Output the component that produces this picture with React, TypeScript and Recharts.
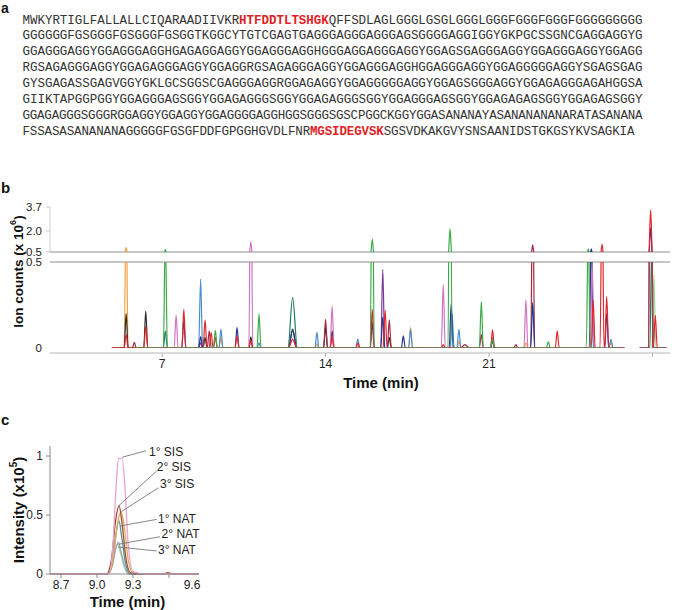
import React from 'react';
import { LineChart, Line, XAxis, YAxis, ReferenceLine, ReferenceDot } from 'recharts';

const FONT = '"Liberation Sans", Arial, Helvetica, sans-serif';
const MONO = '"Liberation Mono", "DejaVu Sans Mono", monospace';

// ---------- Panel a: protein sequence ("|" toggles the red, bold peptides) ----------
const sequenceLines = [
  'MWKYRTIGLFALLALLCIQARAADIIVKR|HTFDDTLTSHGK|QFFSDLAGLGGGLGSGLGGGLGGGFGGGFGGGFGGGGGGGGG',
  'GGGGGGFGSGGGFGSGGGFGSGGTKGGCYTGTCGAGTGAGGGAGGGAGGGAGSGGGGAGGIGGYGKPGCSSGNCGAGGAGGYG',
  'GGAGGGAGGYGGAGGGAGGHGAGAGGAGGYGGAGGGAGGHGGGAGGAGGGAGGYGGAGSGAGGGAGGYGGAGGGAGGYGGAGG',
  'RGSAGAGGGAGGYGGAGAGGGAGGYGGAGGRGSAGAGGGAGGYGGAGGGAGGHGGAGGGAGGYGGAGGGGGAGGYSGAGSGAG',
  'GYSGAGASSGAGVGGYGKLGCSGGSCGAGGGAGGRGGAGAGGYGGAGGGGGAGGYGGAGSGGGAGGYGGAGAGGGAGAHGGSA',
  'GIIKTAPGGPGGYGGAGGGAGSGGYGGAGAGGGSGGYGGAGAGGGSGGYGGAGGGAGSGGYGGAGAGAGSGGYGGAGAGSGGY',
  'GGAGAGGGSGGGRGGAGGYGGAGGYGGAGGGGAGGHGGSGGGSGSCPGGCKGGYGGASANANAYASANANANANARATASANANA',
  'FSSASASANANANAGGGGGFGSGFDDFGPGGHGVDLFNR|MGSIDEGVSK|SGSVDKAKGVYSNSAANIDSTGKGSYKVSAGKIA',
];
const sequenceLineWidths = [620, 620, 620, 620, 620, 620, 620, 612];

// ---------- Panel b: scheduled MRM chromatogram ----------
const bTimeDomain: [number, number] = [2.2, 28.75];
const bTimeTicks = [7, 14, 21, 28];
const bTimeTickLabels = ['7', '14', '21', ''];
const bUpperDomain: [number, number] = [0.5, 3.7];
const bUpperTicks = [0.5, 2.0, 3.7];
const bLowerDomain: [number, number] = [0, 0.5];
const bLowerTicks = [0, 0.5];
const bWindows = [
  [4.85, 26.8],
  [27.45, 28.6],
];

// peaks: [retention time (min), height (x10^6), half width (min, optional)]
const orangePeaks = [[5.46, 0.81], [9.52, 0.06], [13.63, 0.025], [15.38, 0.02], [17.64, 0.12], [19.71, 0.04], [22.58, 0.03], [26.22, 0.04]];
const blackPeaks = [[5.46, 0.2], [6.3, 0.215], [8.84, 0.06], [10.8, 0.065], [12.59, 0.11, 0.18], [14.0, 0.12], [14.28, 0.1], [16.73, 0.06]];
const redPeaks = [[5.46, 0.08], [6.3, 0.125], [7.93, 0.225], [8.84, 0.163], [9.1, 0.09], [9.28, 0.06], [10.21, 0.07], [10.8, 0.045], [12.59, 0.05, 0.18], [14.28, 0.06], [15.38, 0.03], [16.0, 0.225], [16.55, 0.22], [19.04, 0.02], [21.15, 0.105], [23.92, 0.099], [25.46, 0.28], [25.84, 1.05], [26.04, 0.3], [27.92, 3.49], [28.12, 0.19]];
const darkRedPeaks = [[5.81, 0.033], [9.02, 0.1], [14.0, 0.167], [16.73, 0.163], [19.97, 0.02, 0.2], [20.67, 0.08], [22.15, 0.02], [22.87, 1.0]];
const greenPeaks = [[7.14, 0.69], [9.28, 0.103], [11.15, 0.198], [16.0, 1.42], [19.33, 2.14], [20.67, 0.27], [21.15, 0.05], [23.54, 0.037], [25.25, 0.72]];
const darkGreenPeaks = [[7.14, 0.1], [12.59, 0.295, 0.2], [27.97, 0.6]];
const lightBluePeaks = [[8.65, 0.401], [9.52, 0.11], [11.15, 0.03], [13.63, 0.091], [15.38, 0.052], [17.64, 0.11], [19.42, 0.2], [19.71, 0.109], [21.15, 0.06], [26.22, 0.05]];
const navyPeaks = [[7.93, 0.16], [8.65, 0.066], [10.21, 0.12], [12.59, 0.1, 0.18], [16.0, 0.15], [16.45, 0.18], [17.33, 0.07], [19.38, 0.256], [21.15, 0.04], [22.87, 0.264], [25.38, 0.72], [26.04, 0.2], [27.92, 2.2]];
const purplePeaks = [[8.65, 0.03], [16.45, 0.457]];
const pinkPeaks = [[7.6, 0.19], [10.8, 1.23], [14.28, 0.244], [19.04, 0.372], [22.58, 0.28], [25.42, 0.48]];
const lightGreenPeaks = [[28.06, 0.424]];

const bSeriesDefs = [
  { key: 'lightgreen', color: '#a6d89d', peaks: lightGreenPeaks },
  { key: 'orange', color: '#f5a23c', peaks: orangePeaks },
  { key: 'lightblue', color: '#4b8dd0', peaks: lightBluePeaks },
  { key: 'purple', color: '#7b3a99', peaks: purplePeaks },
  { key: 'black', color: '#2b2b2b', peaks: blackPeaks },
  { key: 'darkred', color: '#9f2a45', peaks: darkRedPeaks },
  { key: 'navy', color: '#28358c', peaks: navyPeaks },
  { key: 'darkgreen', color: '#1f7c5c', peaks: darkGreenPeaks },
  { key: 'pink', color: '#cf73c3', peaks: pinkPeaks },
  { key: 'red', color: '#e3262b', peaks: redPeaks },
  { key: 'green', color: '#3bab4a', peaks: greenPeaks },
];

function buildTrace(peaks: number[][]) {
  const pts: { t: number; v: number | null }[] = [];
  bWindows.forEach((w, i) => {
    const inW = peaks.filter((p) => p[0] >= w[0] && p[0] <= w[1]).sort((a, b) => a[0] - b[0]);
    if (!inW.length) return;
    if (pts.length) pts.push({ t: (bWindows[i - 1][1] + w[0]) / 2, v: null });
    const start = Math.max(w[0], inW[0][0] - 1.3);
    const end = Math.min(w[1], inW[inW.length - 1][0] + 1.3);
    const seg: { t: number; v: number }[] = [{ t: start, v: 0 }];
    inW.forEach((p) => {
      const hw = p[2] ?? 0.085;
      seg.push({ t: p[0] - hw, v: 0 }, { t: p[0], v: p[1] }, { t: p[0] + hw, v: 0 });
    });
    seg.push({ t: end, v: 0 });
    seg.sort((a, b) => a.t - b.t);
    pts.push(...seg);
  });
  return pts;
}

const bSeries = bSeriesDefs.map((s) => ({ ...s, points: buildTrace(s.peaks) }));

// ---------- Panel c: transitions of one peptide ----------
const cTimeDomain: [number, number] = [8.6083, 9.85];
const cTimeTicks = [8.7, 9.0, 9.3, 9.6];
const cTimeTickLabels = ['8.7', '9.0', '9.3', '9.6'];
const cIntensityDomain: [number, number] = [0, 1.085];
const cIntensityTicks = [0, 0.5, 1];
const cIntensityTickLabels = ['0', '0.5', '1'];

const sis1 = [[8.61, 0], [9.1, 0], [9.13, 0.2], [9.16, 0.75], [9.18, 0.98], [9.21, 0.98], [9.235, 0.7], [9.26, 0.25], [9.3, 0.02], [9.4, 0], [9.85, 0]];
const sis2 = [[8.61, 0], [9.08, 0], [9.12, 0.12], [9.155, 0.45], [9.183, 0.58], [9.21, 0.42], [9.24, 0.14], [9.28, 0.01], [9.35, 0], [9.55, 0], [9.59, 0.012], [9.63, 0], [9.85, 0]];
const sis3 = [[8.61, 0], [9.09, 0], [9.13, 0.1], [9.17, 0.42], [9.2, 0.53], [9.23, 0.38], [9.26, 0.12], [9.3, 0.01], [9.4, 0], [9.85, 0]];
const nat1 = [[8.61, 0], [9.09, 0], [9.13, 0.1], [9.16, 0.35], [9.183, 0.45], [9.205, 0.32], [9.24, 0.08], [9.28, 0], [9.85, 0]];
const nat2 = [[8.61, 0], [9.09, 0], [9.13, 0.08], [9.155, 0.21], [9.178, 0.27], [9.2, 0.19], [9.235, 0.05], [9.27, 0], [9.85, 0]];
const nat3 = [[8.61, 0], [9.085, 0], [9.125, 0.07], [9.15, 0.2], [9.172, 0.25], [9.195, 0.18], [9.23, 0.05], [9.265, 0], [9.85, 0]];

const cSeriesDefs = [
  { key: 'nat3', color: '#b3da9f', pts: nat3 },
  { key: 'nat2', color: '#9aa6bb', pts: nat2 },
  { key: 'nat1', color: '#4f9690', pts: nat1 },
  { key: 'sis3', color: '#e4aa5a', pts: sis3 },
  { key: 'sis2', color: '#a24a30', pts: sis2 },
  { key: 'sis1', color: '#e6a4cf', pts: sis1 },
];
const cSeries = cSeriesDefs.map((s) => ({ ...s, points: s.pts.map(([t, v]) => ({ t, v })) }));

const cLabels = ['1\u00B0 SIS', '2\u00B0 SIS', '3\u00B0 SIS', '1\u00B0 NAT', '2\u00B0 NAT', '3\u00B0 NAT'];
const cLeaderFrom = [[9.21, 0.99], [9.178, 0.576], [9.205, 0.53], [9.192, 0.407], [9.178, 0.252], [9.178, 0.229]];
const cLeaderTo = [[9.41, 1.045], [9.497, 0.873], [9.51, 0.73], [9.497, 0.463], [9.525, 0.316], [9.497, 0.195]];
const cLabelAt = [[9.425, 1.04], [9.49, 0.907], [9.517, 0.763], [9.5, 0.472], [9.53, 0.339], [9.5, 0.203]];

// ---------- helpers ----------
const tickStyle = { fill: '#222', fontSize: 12, fontFamily: FONT };
const tickStyleB = { fill: '#222', fontSize: 11.5, fontFamily: FONT };

const IonTitle = (props: any) => {
  const vb = props.viewBox;
  const x = vb.x + 18;
  const y = vb.y + vb.height / 2 - 36;
  return (
    <text x={x} y={y} transform={`rotate(-90 ${x} ${y})`} textAnchor="middle" dominantBaseline="central" fontWeight="bold" fontSize={13.5} fill="#111" fontFamily={FONT}>
      Ion counts (x 10<tspan dy={-5} fontSize={9}>6</tspan><tspan dy={5}>)</tspan>
    </text>
  );
};

const IntensityTitle = (props: any) => {
  const vb = props.viewBox;
  const x = vb.x + 18;
  const y = vb.y + vb.height / 2;
  return (
    <text x={x} y={y} transform={`rotate(-90 ${x} ${y})`} textAnchor="middle" dominantBaseline="central" fontWeight="bold" fontSize={15} fill="#111" fontFamily={FONT}>
      Intensity (x10<tspan dy={-5} fontSize={10}>5</tspan><tspan dy={5}>)</tspan>
    </text>
  );
};

const makeTimeTitle = (dx: number) => (props: any) => {
  const vb = props.viewBox;
  return (
    <text x={vb.x + vb.width / 2 + dx} y={vb.y + vb.height - 3} textAnchor="middle" fontWeight="bold" fontSize={15} fill="#111" fontFamily={FONT}>
      Time (min)
    </text>
  );
};
const TimeTitleB = makeTimeTitle(21);
const TimeTitleC = makeTimeTitle(3);

const CTimeTick = (props: any) => {
  const { x, y, payload, index } = props;
  const shift = payload.value === 9.6 ? 23 : 0;
  return (
    <text x={x + shift} y={y} dy="0.71em" textAnchor="middle" {...tickStyle}>
      {cTimeTickLabels[index]}
    </text>
  );
};

export default function App() {
  return (
    <div style={{ position: 'absolute', left: 0, top: 0, width: 675, height: 610, background: '#fff', fontFamily: FONT }}>
      <svg width={675} height={610} style={{ position: 'absolute', left: 0, top: 0 }}>
        <text x={1} y={13} fontSize={14} fontWeight="bold" fill="#111" fontFamily={FONT}>a</text>
        <text x={1} y={193} fontSize={15} fontWeight="bold" fill="#111" fontFamily={FONT}>b</text>
        <text x={1} y={425} fontSize={15} fontWeight="bold" fill="#111" fontFamily={FONT}>c</text>
        {sequenceLines.map((line, i) => (
          <text key={i} x={22.5} y={23.5 + i * 15.86} fontSize={12.5} fontFamily={MONO} fill="#333" textLength={sequenceLineWidths[i]} lengthAdjust="spacing">
            {line.split('|').map((part, j) =>
              j % 2 === 1 ? (
                <tspan key={j} fill="#e11f26" fontWeight="bold">{part}</tspan>
              ) : (
                <tspan key={j}>{part}</tspan>
              )
            )}
          </text>
        ))}
      </svg>

      {/* Panel b, upper segment of the broken axis */}
      <div style={{ position: 'absolute', left: 0, top: 195 }}>
        <LineChart width={675} height={67} margin={{ top: 12, right: 5, left: 0, bottom: 10 }}>
          <XAxis type="number" dataKey="t" domain={bTimeDomain} allowDataOverflow ticks={bTimeTicks} hide />
          <YAxis type="number" domain={bUpperDomain} ticks={bUpperTicks} allowDataOverflow interval={0} width={50} tickFormatter={(v: number) => v.toFixed(1)} axisLine={{ stroke: '#cccccc' }} tickLine={{ stroke: '#cccccc' }} tickSize={4} tickMargin={4} tick={tickStyleB} />
          <ReferenceLine y={0.5} stroke="#b3b3b3" strokeWidth={1.5} ifOverflow="visible" />
          {bSeries.map((s) => (
            <Line key={s.key} data={s.points} dataKey="v" type="monotone" stroke={s.color} strokeWidth={1.2} dot={false} activeDot={false} isAnimationActive={false} />
          ))}
        </LineChart>
      </div>

      {/* Panel b, lower segment */}
      <div style={{ position: 'absolute', left: 0, top: 195 }}>
        <LineChart width={675} height={196} margin={{ top: 67, right: 5, left: 0, bottom: 0 }}>
          <XAxis type="number" dataKey="t" domain={bTimeDomain} allowDataOverflow ticks={bTimeTicks} interval={0} height={38} tickFormatter={(v: number, i: number) => bTimeTickLabels[i]} axisLine={{ stroke: '#cfcfcf', strokeWidth: 1.5 }} tickLine={{ stroke: '#b5b5b5' }} tickSize={4} tickMargin={2} tick={tickStyle} label={{ content: TimeTitleB }} />
          <YAxis type="number" domain={bLowerDomain} ticks={bLowerTicks} allowDataOverflow interval={0} width={50} padding={{ top: 0, bottom: 5 }} axisLine={false} tickLine={false} tickSize={4} tickMargin={4} tickFormatter={(v: number) => String(v)} tick={tickStyleB} label={{ content: IonTitle }} />
          <ReferenceLine y={0.5} stroke="#b3b3b3" strokeWidth={1.5} />
          {bSeries.map((s) => (
            <Line key={s.key} data={s.points} dataKey="v" type="monotone" stroke={s.color} strokeWidth={1.2} dot={false} activeDot={false} isAnimationActive={false} />
          ))}
        </LineChart>
      </div>

      {/* Panel c */}
      <div style={{ position: 'absolute', left: 0, top: 430 }}>
        <LineChart width={220} height={180} margin={{ top: 16, right: 21, left: 0, bottom: 0 }}>
          <XAxis type="number" dataKey="t" domain={cTimeDomain} allowDataOverflow ticks={cTimeTicks} interval={0} height={36} axisLine={{ stroke: '#8a8a8a' }} tickLine={{ stroke: '#8a8a8a' }} tickSize={4} tickMargin={2} tick={<CTimeTick />} label={{ content: TimeTitleC }} />
          <YAxis type="number" domain={cIntensityDomain} ticks={cIntensityTicks} interval={0} width={50} axisLine={{ stroke: '#8a8a8a' }} tickLine={{ stroke: '#8a8a8a' }} tickSize={4} tickMargin={3} tickFormatter={(v: number, i: number) => cIntensityTickLabels[i]} tick={tickStyle} label={{ content: IntensityTitle }} />
          {cSeries.map((s) => (
            <Line key={s.key} data={s.points} dataKey="v" type="monotone" stroke={s.color} strokeWidth={1.3} dot={false} activeDot={false} isAnimationActive={false} />
          ))}
          {cLabels.map((lab, i) => (
            <ReferenceLine
              key={'l' + i}
              segment={[
                { x: cLeaderFrom[i][0], y: cLeaderFrom[i][1] },
                { x: cLeaderTo[i][0], y: cLeaderTo[i][1] },
              ]}
              stroke="#777"
              strokeWidth={0.9}
              ifOverflow="visible"
            />
          ))}
          {cLabels.map((lab, i) => (
            <ReferenceDot
              key={'d' + i}
              x={cLabelAt[i][0]}
              y={cLabelAt[i][1]}
              r={0}
              fill="none"
              stroke="none"
              ifOverflow="visible"
              label={{ value: lab, position: 'right', offset: 1, fill: '#222', fontSize: 12, fontFamily: FONT }}
            />
          ))}
        </LineChart>
      </div>
    </div>
  );
}
